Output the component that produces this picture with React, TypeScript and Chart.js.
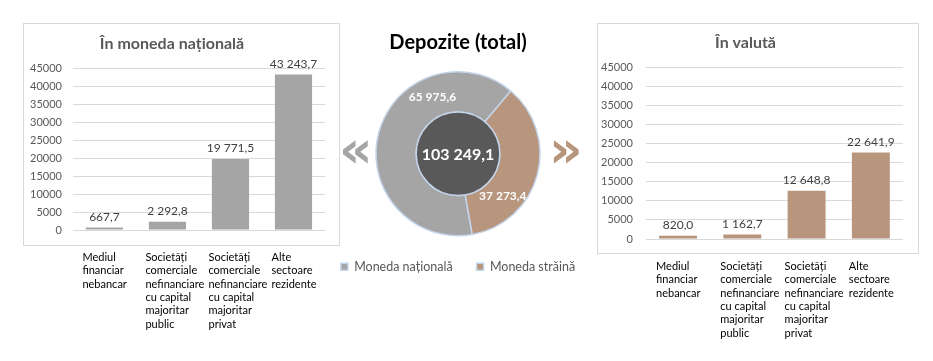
import React, { useEffect, useRef } from "react";
import { Chart, registerables } from "chart.js";

Chart.register(...registerables);

// ---------- data ----------
const categories: string[][] = [
  ["Mediul", "financiar", "nebancar"],
  ["Societăți", "comerciale", "nefinanciare", "cu capital", "majoritar", "public"],
  ["Societăți", "comerciale", "nefinanciare", "cu capital", "majoritar", "privat"],
  ["Alte", "sectoare", "rezidente"],
];
const nationalValues = [667.7, 2292.8, 19771.5, 43243.7];
const foreignValues = [820.0, 1162.7, 12648.8, 22641.9];
const totalLabels = ["Moneda națională", "Moneda străină"];
const totalValues = [65975.6, 37273.4];
const totalValue = 103249.1;
const leftTitle = "În moneda națională";
const rightTitle = "În valută";
const donutTitle = "Depozite (total)";
const yMax = 45000;
const yStep = 5000;

// ---------- style ----------
const FONT = "Lato, 'Open Sans', sans-serif";
const GRAY = "#a5a5a5";
const BROWN = "#b8957d";
const DARK = "#595959";
const FRAME = "#d9d9d9";
const RING = "#c3d5ea";

const fmt = (v: number) => {
  const [i, d] = v.toFixed(1).split(".");
  return i.replace(/\B(?=(\d{3})+(?!\d))/g, " ") + "," + d;
};

const framePlugin = {
  id: "frame",
  beforeDraw(chart: any, _a: any, opts: any) {
    const { ctx, chartArea } = chart;
    ctx.save();
    ctx.strokeStyle = FRAME;
    ctx.lineWidth = 1;
    const l = Math.round(chartArea.left + opts.left) + 0.5;
    const r = Math.round(chartArea.right + opts.right) + 0.5;
    const t = Math.round(opts.top) + 0.5;
    const b = Math.round(chartArea.bottom + opts.bottom) + 0.5;
    ctx.fillStyle = "#fff";
    ctx.fillRect(l, t, r - l, b - t);
    ctx.strokeRect(l, t, r - l, b - t);
    ctx.restore();
  },
};

const barLabelPlugin = {
  id: "barLabels",
  afterDatasetsDraw(chart: any) {
    const { ctx } = chart;
    const meta = chart.getDatasetMeta(0);
    const data = chart.data.datasets[0].data;
    ctx.save();
    ctx.font = `12px ${FONT}`;
    ctx.fillStyle = "#404040";
    ctx.textAlign = "center";
    ctx.textBaseline = "alphabetic";
    meta.data.forEach((el: any, i: number) => {
      ctx.fillText(fmt(data[i]), el.x, el.y - 7);
    });
    ctx.restore();
  },
};

const categoryPlugin = {
  id: "catLabels",
  afterDraw(chart: any, _a: any, opts: any) {
    const { ctx, chartArea } = chart;
    const xs = chart.scales.x;
    ctx.save();
    ctx.font = `11px ${FONT}`;
    ctx.fillStyle = "#000";
    ctx.textAlign = "left";
    ctx.textBaseline = "alphabetic";
    (chart.data.labels as string[][]).forEach((lines, i) => {
      const x = xs.getPixelForValue(i) + opts.offset;
      lines.forEach((ln, j) => {
        ctx.fillText(ln, x, chartArea.bottom + opts.first + j * opts.lineHeight);
      });
    });
    ctx.restore();
  },
};

function barConfig(
  values: number[],
  color: string,
  title: string,
  pad: { left: number; right: number; bottom: number },
  titlePad: { top: number; bottom: number },
  frame: { left: number; right: number; top: number; bottom: number },
  yPad: number
): any {
  return {
    type: "bar",
    data: {
      labels: categories,
      datasets: [
        {
          data: values,
          backgroundColor: color,
          categoryPercentage: 1,
          barPercentage: 0.59,
        },
      ],
    },
    plugins: [framePlugin, barLabelPlugin, categoryPlugin],
    options: {
      animation: false,
      responsive: false,
      maintainAspectRatio: false,
      layout: { padding: { left: pad.left, right: pad.right, top: 0, bottom: pad.bottom } },
      plugins: {
        legend: { display: false },
        tooltip: { enabled: false },
        title: {
          display: true,
          text: title,
          color: DARK,
          font: { family: FONT, size: 16, weight: "bold" },
          padding: titlePad,
        },
        frame,
        catLabels: { offset: -22, first: 31, lineHeight: 13.3 },
      },
      scales: {
        x: { display: false },
        y: {
          min: 0,
          max: yMax,
          ticks: {
            stepSize: yStep,
            color: DARK,
            font: { family: FONT, size: 11 },
            padding: yPad,
            callback: (v: any) => String(v),
          },
          grid: { color: FRAME, drawTicks: false },
          border: { display: false },
        },
      },
    },
  };
}

function donutConfig(): any {
  const centerPlugin = {
    id: "center",
    afterDatasetsDraw(chart: any) {
      const { ctx } = chart;
      const meta = chart.getDatasetMeta(0);
      const arc0 = meta.data[0];
      const cx = arc0.x;
      const cy = arc0.y;
      const ir = arc0.innerRadius;
      ctx.save();
      ctx.beginPath();
      ctx.arc(cx, cy, ir, 0, Math.PI * 2);
      ctx.fillStyle = DARK;
      ctx.fill();
      ctx.lineWidth = 1.5;
      ctx.strokeStyle = RING;
      ctx.stroke();
      ctx.fillStyle = "#fff";
      ctx.textAlign = "center";
      ctx.textBaseline = "middle";
      ctx.font = `bold 16px ${FONT}`;
      ctx.fillText(fmt(totalValue), cx, cy + 1);
      ctx.font = `bold 12px ${FONT}`;
      meta.data.forEach((el: any, i: number) => {
        const a = el.startAngle + 0.72 * (el.endAngle - el.startAngle);
        const r = (el.innerRadius + el.outerRadius) / 2;
        ctx.fillText(fmt(chart.data.datasets[0].data[i]), el.x + Math.cos(a) * r, el.y + Math.sin(a) * r);
      });
      ctx.restore();
    },
  };
  return {
    type: "doughnut",
    data: {
      labels: totalLabels,
      datasets: [
        {
          data: totalValues,
          backgroundColor: [GRAY, BROWN],
          borderColor: RING,
          borderWidth: 1.5,
        },
      ],
    },
    plugins: [centerPlugin],
    options: {
      animation: false,
      responsive: false,
      maintainAspectRatio: false,
      rotation: 170,
      cutout: "51%",
      layout: { padding: { top: 0, bottom: 78, left: 0, right: 0 } },
      plugins: {
        tooltip: { enabled: false },
        title: {
          display: true,
          text: donutTitle,
          color: "#000",
          font: { family: FONT, size: 20, weight: "bold" },
          padding: { top: 31, bottom: 16 },
        },
        legend: {
          position: "bottom",
          labels: {
            boxWidth: 7,
            boxHeight: 7,
            padding: 24,
            color: DARK,
            font: { family: FONT, size: 12.5 },
          },
        },
      },
    },
  };
}

function ChartCanvas({ config, left, width }: { config: () => any; left: number; width: number }) {
  const ref = useRef<HTMLCanvasElement | null>(null);
  useEffect(() => {
    if (!ref.current) return;
    const chart = new Chart(ref.current, config());
    return () => chart.destroy();
  }, []);
  return (
    <canvas
      ref={ref}
      width={width}
      height={361}
      style={{ position: "absolute", left, top: 0, width, height: 361 }}
    />
  );
}

const chevronStyle = {
  position: "absolute" as const,
  top: 123,
  fontSize: 52,
  lineHeight: "52px",
  fontWeight: 700,
  fontFamily: "'DejaVu Sans', sans-serif",
};

export default function App() {
  return (
    <div
      style={{
        position: "fixed",
        left: 0,
        top: 0,
        width: 933,
        height: 361,
        background: "#fff",
        overflow: "hidden",
        fontFamily: FONT,
      }}
    >
      <ChartCanvas
        left={0}
        width={345}
        config={() =>
          barConfig(
            nationalValues,
            GRAY,
            leftTitle,
            { left: 19, right: 20, bottom: 131 },
            { top: 34, bottom: 15 },
            { left: -50, right: 14, top: 23, bottom: 15 },
            11
          )
        }
      />
      <ChartCanvas
        left={570}
        width={363}
        config={() =>
          barConfig(
            foreignValues,
            BROWN,
            rightTitle,
            { left: 18, right: 30, bottom: 122 },
            { top: 33, bottom: 15 },
            { left: -49, right: 15, top: 23, bottom: 14 },
            13
          )
        }
      />
      <ChartCanvas left={300} width={316} config={donutConfig} />
      <div style={{ ...chevronStyle, left: 339, color: GRAY }}>«</div>
      <div style={{ ...chevronStyle, left: 549, color: BROWN }}>»</div>
    </div>
  );
}
